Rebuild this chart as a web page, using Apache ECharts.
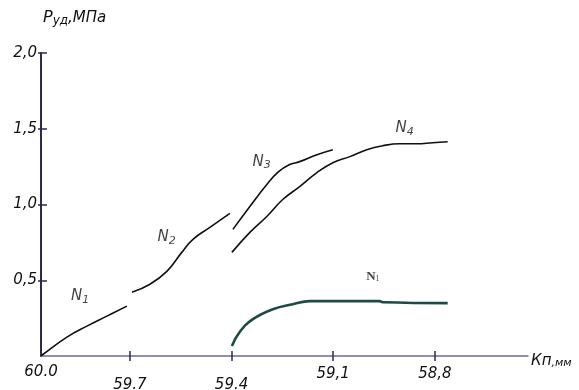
<!DOCTYPE html>
<html>
<head>
<meta charset="utf-8">
<script src="https://cdn.jsdelivr.net/npm/echarts@6/dist/echarts.min.js"></script>
<style>html,body{margin:0;padding:0;background:#fff;}#c{width:579px;height:390px;}</style>
</head>
<body>
<div id="c"></div>
<script>
// ---- data ----
const xTickValues = [59.7, 59.4, 59.1, 58.8];
const xLabelValues = [59.9625, 59.7, 59.4, 59.1, 58.8];
const xLabelTexts = ['60.0', '59.7', '59.4', '59,1', '58,8'];
const yTickValues = [0.5, 1.0, 1.5, 2.0];
const yLabelTexts = ['0,5', '1,0', '1,5', '2,0'];

const n1X = [59.9625, 59.957, 59.886, 59.827, 59.768, 59.709];
const n1Y = [0.0, 0.01, 0.125, 0.197, 0.263, 0.329];

const n2X = [59.694, 59.641, 59.591, 59.547, 59.514, 59.464, 59.405];
const n2Y = [0.421, 0.474, 0.559, 0.684, 0.770, 0.849, 0.941];

const n3X = [59.396, 59.346, 59.296, 59.262, 59.230, 59.199, 59.148, 59.101];
const n3Y = [0.836, 0.987, 1.132, 1.215, 1.262, 1.283, 1.329, 1.362];

const n4X = [59.399, 59.346, 59.296, 59.249, 59.199, 59.148, 59.101, 59.051, 59.001, 58.954, 58.904, 58.853, 58.806, 58.762];
const n4Y = [0.684, 0.816, 0.921, 1.033, 1.118, 1.211, 1.276, 1.316, 1.362, 1.388, 1.401, 1.401, 1.408, 1.414];

const n1bX = [59.399, 59.376, 59.337, 59.278, 59.219, 59.169, 59.060, 58.963, 58.954, 58.762];
const n1bY = [0.066, 0.158, 0.243, 0.309, 0.342, 0.362, 0.362, 0.362, 0.355, 0.349];

const curveLabels = [
  {x: 59.847, y: 0.395, text: '{n|N}{s|1}'},
  {x: 59.592, y: 0.783, text: '{n|N}{s|2}'},
  {x: 59.311, y: 1.283, text: '{n|N}{s|3}'},
  {x: 58.889, y: 1.507, text: '{n|N}{s|4}'}
];
const bottomLabel = [{x: 58.983, y: 0.525, text: '{n|N}{s|1}'}];

const xMin = 58.525, xMax = 59.9625;

// ---- chart ----
const zip = (xs, ys) => xs.map((x, i) => [x, ys[i]]);
const chart = echarts.init(document.getElementById('c'), null, {renderer: 'canvas'});
const lblFont = {fontFamily: 'DejaVu Sans', fontStyle: 'italic', fontSize: 14, color: '#111'};

function lineSeries(name, xs, ys, color, width) {
  return {
    name: name, type: 'line', smooth: 0.45, showSymbol: false, symbol: 'none',
    data: zip(xs, ys), lineStyle: {color: color, width: width}, z: 3, silent: true
  };
}

const option = {
  animation: false,
  backgroundColor: '#fff',
  grid: {left: 41, right: 51, top: 53, bottom: 34, containLabel: false, outerBoundsMode: 'none'},
  xAxis: [{
    type: 'value', inverse: true, min: xMin, max: xMax,
    splitLine: {show: false},
    axisLine: {show: true, lineStyle: {color: '#6b6b9c', width: 1.5}},
    axisTick: {show: true, customValues: xTickValues, length: 5, lineStyle: {color: '#2b2b4d', width: 1.5}},
    axisLabel: {
      show: true, customValues: xLabelValues, margin: 9,
      formatter: function (v) {
        const i = xLabelValues.findIndex(t => Math.abs(t - v) < 1e-6);
        const t = i >= 0 ? xLabelTexts[i] : '';
        if (i === 0) return '{a|' + t + '}';
        if (i <= 2) return '{b|' + t + '}';
        return '{c|' + t + '}';
      },
      rich: {
        a: Object.assign({}, lblFont, {fontSize: 15}),
        b: Object.assign({}, lblFont, {fontSize: 15, padding: [13, 0, 0, 0]}),
        c: Object.assign({}, lblFont, {fontSize: 15, padding: [2, 0, 0, 0]})
      }
    },
    name: '{k|Кп}{m|,мм}', nameLocation: 'start', nameGap: 3,
    nameTextStyle: {
      align: 'left', verticalAlign: 'top', padding: [-2, 0, 0, 0],
      rich: {
        k: Object.assign({}, lblFont, {fontSize: 15}),
        m: Object.assign({}, lblFont, {fontSize: 11, padding: [4, 0, 0, 0]})
      }
    }
  }, {
    type: 'value', inverse: true, min: xMin, max: xMax, position: 'bottom',
    splitLine: {show: false}, axisLine: {show: false}, axisLabel: {show: false},
    axisTick: {show: true, inside: true, customValues: xTickValues, length: 5, lineStyle: {color: '#2b2b4d', width: 1.5}}
  }],
  yAxis: [{
    type: 'value', min: 0, max: 2.0,
    splitLine: {show: false},
    axisLine: {show: true, lineStyle: {color: '#2b2b4d', width: 2}},
    axisTick: {show: true, customValues: yTickValues, length: 3, lineStyle: {color: '#2b2b4d', width: 1.5}},
    axisLabel: {
      show: true, customValues: yTickValues, margin: 4,
      formatter: function (v) {
        const i = yTickValues.findIndex(t => Math.abs(t - v) < 1e-6);
        return i >= 0 ? yLabelTexts[i] : '';
      },
      fontFamily: 'DejaVu Sans', fontStyle: 'italic', fontSize: 15, color: '#111'
    },
    name: '{p|P}{u|уд}{t|,МПа}', nameLocation: 'end', nameGap: 26,
    nameTextStyle: {
      align: 'left', padding: [0, 0, 0, 2],
      rich: {
        p: Object.assign({}, lblFont, {fontSize: 16}),
        u: Object.assign({}, lblFont, {fontSize: 12, padding: [6, 0, 0, 0]}),
        t: Object.assign({}, lblFont, {fontSize: 15})
      }
    }
  }, {
    type: 'value', min: 0, max: 2.0, position: 'left',
    splitLine: {show: false}, axisLine: {show: false}, axisLabel: {show: false},
    axisTick: {show: true, inside: true, customValues: yTickValues, length: 6, lineStyle: {color: '#2b2b4d', width: 1.5}}
  }],
  series: [
    lineSeries('N1', n1X, n1Y, '#111', 1.6),
    lineSeries('N2', n2X, n2Y, '#111', 1.6),
    lineSeries('N3', n3X, n3Y, '#111', 1.6),
    lineSeries('N4', n4X, n4Y, '#111', 1.6),
    lineSeries('N1b', n1bX, n1bY, '#1d4a45', 2.6),
    {
      type: 'scatter', symbolSize: 0, silent: true, z: 5,
      data: curveLabels.map(d => ({value: [d.x, d.y], label: {formatter: d.text}})),
      label: {
        show: true, position: 'inside', color: '#111',
        rich: {
          n: Object.assign({}, lblFont, {fontSize: 15}),
          s: Object.assign({}, lblFont, {fontSize: 11, padding: [8, 0, 0, 0]})
        }
      }
    },
    {
      type: 'scatter', symbolSize: 0, silent: true, z: 5,
      data: bottomLabel.map(d => ({value: [d.x, d.y], label: {formatter: d.text}})),
      label: {
        show: true, position: 'inside', color: '#111',
        rich: {
          n: {fontFamily: 'Liberation Serif', fontWeight: 'bold', fontSize: 13, color: '#111'},
          s: {fontFamily: 'Liberation Serif', fontSize: 8, color: '#111', padding: [4, 0, 0, 0]}
        }
      }
    }
  ]
};
chart.setOption(option);
</script>
</body>
</html>
